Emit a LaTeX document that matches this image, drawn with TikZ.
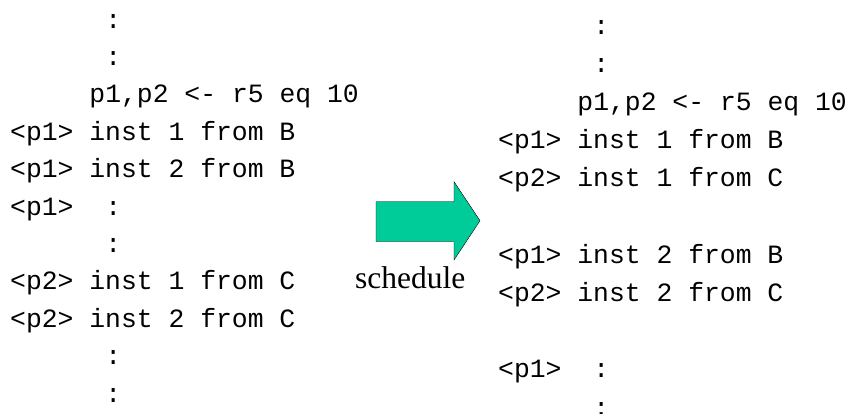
\documentclass[tikz,border=0pt]{standalone}
\usepackage{fontspec}
\setmainfont{Liberation Serif}
\setmonofont{Liberation Mono}
\usetikzlibrary{positioning}
\usepackage{xcolor}

\definecolor{schedgreen}{RGB}{0,204,153}

\tikzset{
    codeline/.style={anchor=base west, inner sep=0pt, font=\ttfamily\fontsize{26.4}{30}\selectfont},
    schedlabel/.style={anchor=base west, inner sep=0pt, font=\fontsize{31.5}{36}\selectfont},
}

\begin{document}
\begin{tikzpicture}[x=1pt,y=-1pt]
        \useasboundingbox (0,0) rectangle (852,413);

        % before scheduling
        \foreach \k/\c/\txt [count=\i] in {0/6/{:}, 1/6/{:}, 2/5/{p1,p2 <- r5 eq 10},
                3/0/{<p1> inst 1 from B}, 4/0/{<p1> inst 2 from B}, 5/0/{<p1>}, 5/6/{:},
                6/6/{:}, 7/0/{<p2> inst 1 from C}, 8/0/{<p2> inst 2 from C}, 9/6/{:}, 10/6/{:}} {
                \node[codeline] (left\i) at ({10+\c*15.85},{28+\k*37.4}) {\txt};
            }

        % after scheduling
        \foreach \k/\c/\txt [count=\i] in {0/6/{:}, 1/6/{:}, 2/5/{p1,p2 <- r5 eq 10},
                3/0/{<p1> inst 1 from B}, 4/0/{<p2> inst 1 from C},
                6/0/{<p1> inst 2 from B}, 7/0/{<p2> inst 2 from C},
                9/0/{<p1>}, 9/6/{:}, 10/6/{:}} {
                \node[codeline] (right\i) at ({498+\c*15.85},{34+\k*38.2}) {\txt};
            }

        \draw[fill=schedgreen, thin] (376,201.7) -- (454,201.7) -- (454,181.7) -- (480,220.7)
            -- (454,260) -- (454,241.7) -- (376,241.7) -- cycle;
        \node[schedlabel] (sched) at (355,288) {schedule};

    \end{tikzpicture}
\end{document}
